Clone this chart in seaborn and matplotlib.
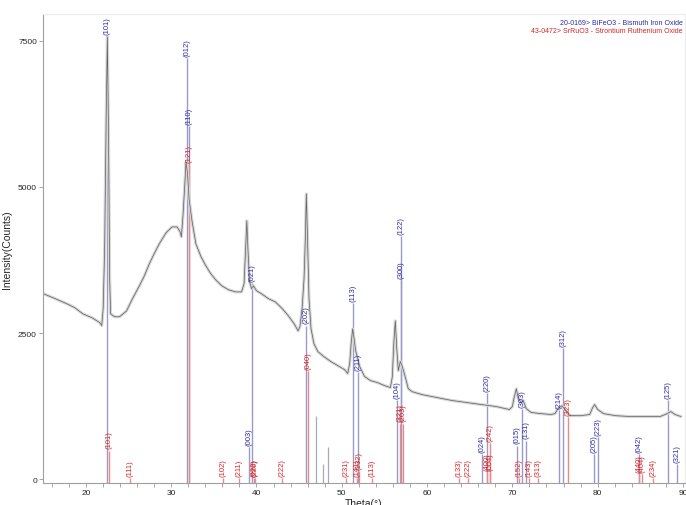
import numpy as np
import pandas as pd
import seaborn as sns
import matplotlib
matplotlib.use('Agg')
import matplotlib.pyplot as plt
from matplotlib.ticker import MultipleLocator

theta = [15.0, 16.4, 17.8, 18.7, 19.65, 20.7, 21.63, 21.86, 22.03, 22.2, 22.38, 22.52, 22.65, 22.79,
         22.9, 23.37, 23.95, 24.77, 25.47, 26.28, 26.86, 27.44, 28.0, 28.6, 29.4, 30.1, 30.7, 31.05,
         31.2, 31.4, 31.57, 31.74, 31.92, 32.1, 32.44, 32.9, 33.5, 34.07, 34.65, 35.23, 35.93, 36.74,
         37.56, 38.26, 38.55, 38.72, 38.87, 39.0, 39.19, 39.42, 39.65, 40.0, 40.58, 41.4, 42.2, 43.02,
         43.72, 44.42, 44.88, 45.1, 45.35, 45.58, 45.73, 45.85, 45.99, 46.16, 46.4, 46.74, 47.2, 47.9,
         48.72, 49.53, 50.35, 50.7, 50.93, 51.1, 51.28, 51.45, 51.63, 52.1, 52.67, 53.37, 54.19, 55.0,
         55.7, 55.93, 56.1, 56.28, 56.45, 56.63, 56.86, 57.1, 57.44, 57.8, 58.26, 59.42, 61.16, 62.9,
         64.65, 66.4, 68.14, 69.65, 70.0, 70.23, 70.47, 70.7, 71.05, 71.28, 71.63, 72.2, 73.37, 74.53,
         75.0, 75.35, 75.81, 76.28, 76.74, 78.02, 79.07, 79.42, 79.65, 80.0, 80.7, 82.1, 83.84, 85.58,
         87.33, 88.14, 88.6, 89.07, 89.77]
counts = [3175, 3090, 3000, 2935, 2830, 2765, 2680, 2630, 2920, 3940, 6160, 7560, 5990, 3430,
          2830, 2780, 2780, 2880, 3090, 3310, 3480, 3685, 3855, 4025, 4215, 4315, 4315, 4230,
          4145, 4540, 4965, 5425, 5220, 4795, 4420, 4025, 3805, 3650, 3515, 3410, 3310, 3240,
          3205, 3205, 3345, 3940, 4420, 3940, 3380, 3260, 3310, 3225, 3175, 3090, 3035, 2920,
          2800, 2660, 2540, 2610, 2920, 3430, 4110, 4880, 4110, 3090, 2575, 2320, 2185, 2100,
          2015, 1945, 1875, 1810, 1980, 2320, 2575, 2405, 2200, 1930, 1760, 1690, 1655, 1605,
          1570, 1755, 2320, 2710, 2235, 1860, 2015, 1930, 1755, 1550, 1500, 1450, 1400, 1350,
          1315, 1280, 1245, 1195, 1245, 1415, 1550, 1380, 1315, 1350, 1210, 1145, 1125, 1110,
          1125, 1210, 1260, 1180, 1090, 1090, 1110, 1230, 1280, 1195, 1125, 1090, 1075, 1075,
          1075, 1125, 1160, 1110, 1075]

# 20-0169 BiFeO3 reference sticks
bfo_theta = [22.48, 31.89, 32.09, 39.10, 39.42, 45.78, 51.35, 51.85, 56.43, 56.92, 56.95, 66.40, 66.98,
             70.58, 71.16, 71.63, 75.43, 75.90, 79.57, 80.08, 84.80, 88.29, 89.27]
bfo_int = [7580, 7200, 6040, 560, 3360, 2630, 3020, 1830, 1350, 4160, 3400, 430, 1480,
           580, 1210, 665, 1180, 2250, 430, 720, 430, 1350, 270]
bfo_hkl = ['(101)', '(012)', '(110)', '(003)', '(021)', '(202)', '(113)', '(211)', '(104)', '(122)', '(300)',
           '(024)', '(220)', '(015)', '(303)', '(131)', '(214)', '(312)', '(205)', '(223)', '(042)', '(125)',
           '(321)']

# 43-0472 SrRuO3 reference sticks
sro_theta = [22.67, 25.20, 32.09, 36.13, 37.91, 39.70, 39.78, 43.05, 46.10, 50.50, 51.78, 52.06, 53.49,
             56.85, 57.20, 63.76, 64.85, 67.06, 67.36, 67.44, 70.78, 72.01, 73.06, 76.47, 84.88, 85.20, 86.55]
sro_int = [495, 30, 5390, 30, 30, 30, 30, 30, 1860, 30, 30, 140, 30,
           955, 955, 30, 30, 120, 615, 120, 30, 30, 30, 1060, 100, 100, 30]
sro_hkl = ['(101)', '(111)', '(121)', '(102)', '(211)', '(022)', '(220)', '(222)', '(040)', '(231)', '(141)',
           '(132)', '(113)', '(321)', '(203)', '(133)', '(222)', '(400)', '(242)', '(004)', '(152)', '(143)',
           '(313)', '(323)', '(440)', '(404)', '(234)']

# unlabelled sticks
other_theta = [46.94, 47.79, 48.41]
other_int = [1090, 270, 560]

sns.set_style('ticks')
plt.rcParams['font.family'] = ['Liberation Sans', 'DejaVu Sans']

fig = plt.figure(figsize=(6.86, 5.06), dpi=100)
ax = fig.add_axes([0.063, 0.0435, 0.935, 0.9265])

YMIN = -60
ax.vlines(other_theta, YMIN, other_int, color='#a8a8b8', lw=0.9)
ax.vlines(bfo_theta, YMIN, bfo_int, color='#9a9ac8', lw=1.0)
ax.vlines(sro_theta, YMIN, sro_int, color='#e88a8a', lw=1.0)

df = pd.DataFrame({'theta': theta, 'counts': counts})
sns.lineplot(data=df, x='theta', y='counts', ax=ax, color='#d6d6d6', lw=2.2)
sns.lineplot(data=df, x='theta', y='counts', ax=ax, color='#606060', lw=0.5)

for t, h, s in zip(bfo_theta, bfo_int, bfo_hkl):
    ax.annotate(s, (t, h), xytext=(0, 1.5), textcoords='offset points', rotation=90,
                ha='center', va='bottom', fontsize=5.5, color='#2b2ba8')
for t, h, s in zip(sro_theta, sro_int, sro_hkl):
    ax.annotate(s, (t, h), xytext=(0, 1.5), textcoords='offset points', rotation=90,
                ha='center', va='bottom', fontsize=5.5, color='#d82424')

ax.set_xlim(15, 90.2)
ax.set_ylim(YMIN, 7950)
ax.set_xticks([20, 30, 40, 50, 60, 70, 80, 90])
ax.xaxis.set_minor_locator(MultipleLocator(2))
ax.set_yticks([0, 2500, 5000, 7500])
ax.tick_params(axis='both', which='major', labelsize=6, length=3, width=0.6, color='#999999', pad=1.5)
ax.tick_params(axis='x', which='minor', length=3, width=0.6, color='#999999')
for side in ['left', 'bottom']:
    ax.spines[side].set_color('#a0a0a0')
    ax.spines[side].set_linewidth(0.8)
for side in ['top', 'right']:
    ax.spines[side].set_visible(True)
    ax.spines[side].set_color('#ececec')
    ax.spines[side].set_linewidth(0.8)

ax.set_xlabel('Theta(°)', fontsize=7.5, labelpad=1)
ax.set_ylabel('Intensity(Counts)', fontsize=7.5, labelpad=4)

fig.text(0.9956, 0.9545, '20-0169> BiFeO3 - Bismuth Iron Oxide', ha='right', va='center',
         fontsize=5, color='#2b2ba8')
fig.text(0.9956, 0.9387, '43-0472> SrRuO3 - Strontium Ruthenium Oxide', ha='right', va='center',
         fontsize=5, color='#d82424')

fig.savefig('out.png', dpi=100)
